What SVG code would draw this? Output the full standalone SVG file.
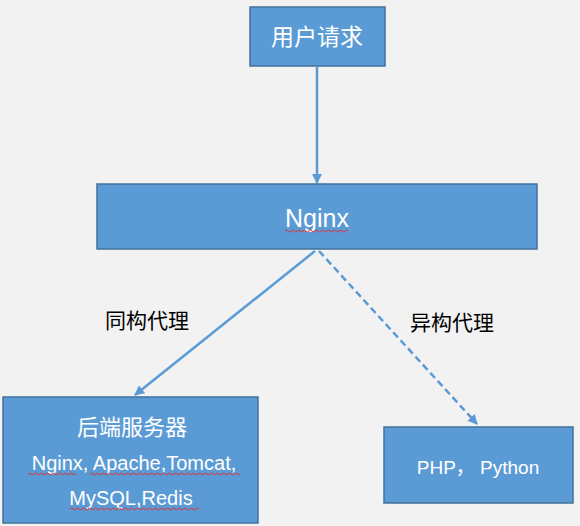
<svg xmlns="http://www.w3.org/2000/svg" width="580" height="526" viewBox="0 0 580 526">
<defs>
<style>
.box{fill:#5B9BD5;stroke:#41719C;stroke-width:1.5}
.wt{fill:#fff;font-family:"Liberation Sans Narrow","Liberation Sans","Noto Sans CJK SC",sans-serif;text-anchor:middle}
.bt{fill:#000;font-family:"Liberation Sans","Noto Sans CJK SC",sans-serif;font-size:21px;text-anchor:middle}
.ln{stroke:#5B9BD5;stroke-width:2.5;fill:none}
.sq{stroke:#E03030;stroke-width:1;fill:none}
</style>
<marker id="ah" viewBox="0 0 10 10" refX="9" refY="5" markerWidth="4" markerHeight="4" orient="auto" markerUnits="strokeWidth">
<path d="M0,0 L10,5 L0,10 z" fill="#5B9BD5"/>
</marker>
</defs>
<rect width="580" height="526" fill="#F2F2F2"/>
<g id="connectors">
<line class="ln" x1="317" y1="67" x2="317" y2="183" marker-end="url(#ah)"/>
<line class="ln" x1="315" y1="251" x2="135" y2="395" marker-end="url(#ah)"/>
<line class="ln" x1="319" y1="251" x2="477" y2="424" stroke-dasharray="7,4" marker-end="url(#ah)"/>
<text class="bt" x="147" y="328">同构代理</text>
<text class="bt" x="452" y="330">异构代理</text>
</g>
<g id="user">
<rect class="box" x="250" y="7" width="135" height="59"/>
<text class="wt" x="317" y="45" font-size="23">用户请求</text>
</g>
<g id="nginx">
<rect class="box" x="97" y="184" width="440" height="65"/>
<text class="wt" x="317" y="227" font-size="25">Nginx</text>
<path class="sq" d="M285,231 q1.5,-2 3,0 t3,0 t3,0 t3,0 t3,0 t3,0 t3,0 t3,0 t3,0 t3,0 t3,0 t3,0 t3,0 t3,0 t3,0 t3,0 t3,0 t3,0 t3,0 t3,0 t3,0"/>
</g>
<g id="backend">
<rect class="box" x="3" y="397" width="255" height="126"/>
<text class="wt" x="132" y="435" font-size="22">后端服务器</text>
<text class="wt" x="134" y="470" font-size="20">Nginx, Apache,Tomcat,</text>
<text class="wt" x="131" y="505" font-size="20">MySQL,Redis</text>
<path class="sq" d="M28,474 q1.5,-2 3,0 t3,0 t3,0 t3,0 t3,0 t3,0 t3,0 t3,0 t3,0 t3,0 t3,0 t3,0 t3,0 t3,0 t3,0 t3,0"/>
<path class="sq" d="M90,474 q1.5,-2 3,0 t3,0 t3,0 t3,0 t3,0 t3,0 t3,0 t3,0 t3,0 t3,0 t3,0 t3,0 t3,0 t3,0 t3,0 t3,0 t3,0 t3,0 t3,0 t3,0 t3,0 t3,0 t3,0 t3,0 t3,0 t3,0 t3,0 t3,0 t3,0 t3,0 t3,0 t3,0 t3,0 t3,0 t3,0 t3,0 t3,0 t3,0 t3,0 t3,0 t3,0 t3,0 t3,0 t3,0 t3,0 t3,0 t3,0 t3,0 t3,0 t3,0"/>
<path class="sq" d="M70,509 q1.5,-2 3,0 t3,0 t3,0 t3,0 t3,0 t3,0 t3,0 t3,0 t3,0 t3,0 t3,0 t3,0 t3,0 t3,0 t3,0 t3,0 t3,0 t3,0 t3,0 t3,0 t3,0 t3,0 t3,0 t3,0 t3,0 t3,0 t3,0 t3,0 t3,0 t3,0 t3,0 t3,0 t3,0 t3,0 t3,0 t3,0 t3,0 t3,0 t3,0 t3,0 t3,0 t3,0 t3,0"/>
</g>
<g id="php">
<rect class="box" x="384" y="427" width="189" height="76"/>
<text class="wt" x="478" y="474" font-size="19">PHP， Python</text>
</g>
</svg>
